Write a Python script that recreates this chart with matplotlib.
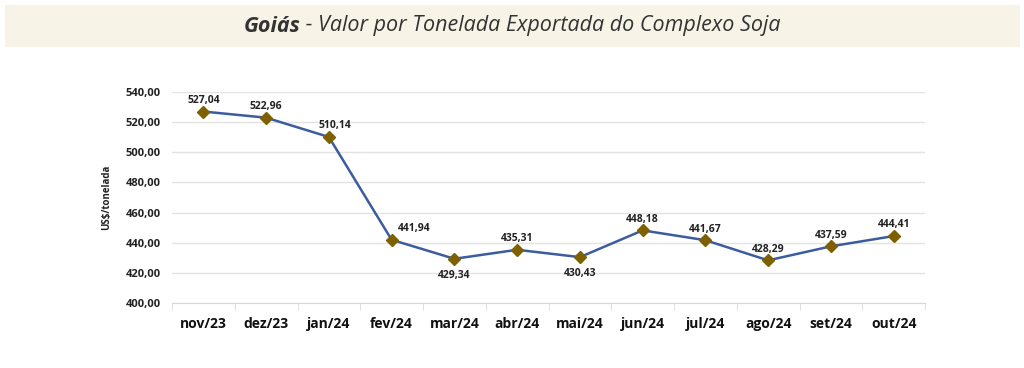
import matplotlib
matplotlib.use('Agg')
import matplotlib.pyplot as plt
import matplotlib.patches as patches

months = ['nov/23', 'dez/23', 'jan/24', 'fev/24', 'mar/24', 'abr/24',
          'mai/24', 'jun/24', 'jul/24', 'ago/24', 'set/24', 'out/24']
values = [527.04, 522.96, 510.14, 441.94, 429.34, 435.31,
          430.43, 448.18, 441.67, 428.29, 437.59, 444.41]
# label placement: offset in points (dx, dy)
label_offsets = [(0, 8), (0, 8), (4, 8), (16, 8), (0, -12), (0, 8),
                 (0, -12), (0, 8), (0, 8), (0, 8), (0, 8), (0, 8)]

def fmt(v):
    return f'{v:.2f}'.replace('.', ',')

plt.rcParams['font.family'] = ['Open Sans', 'DejaVu Sans']

fig = plt.figure(figsize=(10.24, 3.68), dpi=100)

# title banner
banner = patches.Rectangle((5 / 1024, 1 - 47 / 368), 1015 / 1024, 42 / 368,
                           transform=fig.transFigure, facecolor='#f7f3e6',
                           edgecolor='none')
fig.patches.append(banner)
t1 = fig.text(0, 1 - 26 / 368, 'Goiás', fontsize=15.5, style='italic',
              fontweight='bold', color='#333333', ha='left', va='center')
t2 = fig.text(0, 1 - 26 / 368, ' - Valor por Tonelada Exportada do Complexo Soja',
              fontsize=15.5, style='italic', color='#333333', ha='left',
              va='center')
fig.canvas.draw()
r = fig.canvas.get_renderer()
w1 = t1.get_window_extent(r).width
w2 = t2.get_window_extent(r).width
x0 = 512 - (w1 + w2) / 2
t1.set_x(x0 / 1024)
t2.set_x((x0 + w1) / 1024)

ax = fig.add_axes([172 / 1024, 1 - 303 / 368, 753 / 1024, 211 / 368])
x = range(len(months))
ax.plot(x, values, color='#3b5c9e', lw=1.8, marker='D', ms=6,
        mfc='#7f6000', mec='#7f6000', zorder=3)

for i, v in enumerate(values):
    dx, dy = label_offsets[i]
    ax.annotate(fmt(v), (i, v), xytext=(dx, dy), textcoords='offset points',
                ha='center', va='center', fontsize=7.5, fontweight='bold',
                color='#222222')

ax.set_xlim(-0.5, len(months) - 0.5)
ax.set_ylim(400, 540)
ax.set_yticks(range(400, 541, 20))
ax.set_yticklabels([fmt(t) for t in range(400, 541, 20)], fontsize=8,
                   fontweight='bold', color='#222222')
ax.set_xticks(list(x))
ax.set_xticklabels(months, fontsize=10, fontweight='bold', color='#111111')
ax.set_xticks([i - 0.5 for i in range(len(months) + 1)], minor=True)
ax.tick_params(axis='x', which='major', length=0, pad=10)
ax.tick_params(axis='x', which='minor', length=5, color='#d9d9d9')
ax.tick_params(axis='y', length=0, pad=8)
ax.grid(axis='y', color='#e3e3e3', lw=1)
ax.set_axisbelow(True)
for s in ['top', 'right', 'left']:
    ax.spines[s].set_visible(False)
ax.spines['bottom'].set_color('#d9d9d9')
ax.set_ylabel('US$/tonelada', fontsize=7, fontweight='bold', color='#222222',
              labelpad=10)

fig.savefig('out.png', dpi=100)
